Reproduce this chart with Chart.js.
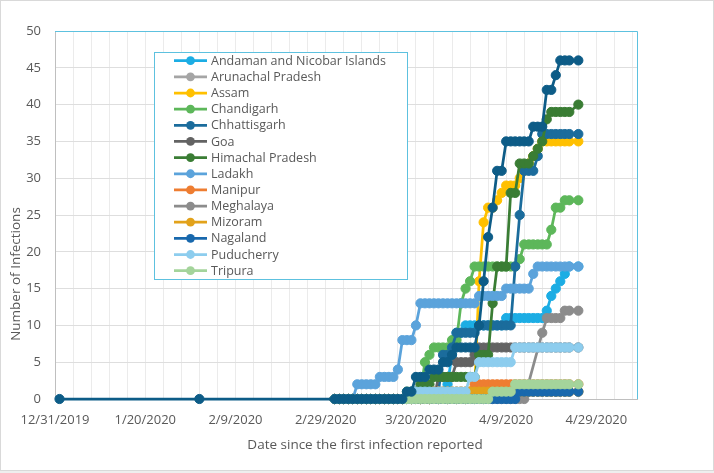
<!DOCTYPE html>
<html><head><meta charset="utf-8">
<script src="https://cdn.jsdelivr.net/npm/chart.js@4.4.1/dist/chart.umd.min.js"></script>
<style>html,body{margin:0;padding:0;background:#fff}#wrap{width:714px;height:473px}</style>
</head><body><div id="wrap"><canvas id="c" width="714" height="473"></canvas></div>
<script>
const dates = ['1/1/2020','2/1/2020',
'3/2/2020','3/3/2020','3/4/2020','3/5/2020','3/6/2020','3/7/2020','3/8/2020','3/9/2020','3/10/2020','3/11/2020',
'3/12/2020','3/13/2020','3/14/2020','3/15/2020','3/16/2020','3/17/2020','3/18/2020','3/19/2020','3/20/2020','3/21/2020',
'3/22/2020','3/23/2020','3/24/2020','3/25/2020','3/26/2020','3/27/2020','3/28/2020','3/29/2020','3/30/2020','3/31/2020',
'4/1/2020','4/2/2020','4/3/2020','4/4/2020','4/5/2020','4/6/2020','4/7/2020','4/8/2020','4/9/2020','4/10/2020',
'4/11/2020','4/12/2020','4/13/2020','4/14/2020','4/15/2020','4/16/2020','4/17/2020','4/18/2020','4/19/2020','4/20/2020',
'4/21/2020','4/22/2020','4/23/2020','4/25/2020'];

const andaman = [null,null,
0,0,0,0,0,0,0,0,0,0, 0,0,0,0,0,0,0,0,0,0, 0,0,0,0,0,2,6,9,9,10,
10,10,10,10,10,10,10,10,11,11, 11,11,11,11,11,11,11,12,14,15, 16,17,18, 18];
const arunachal = [null,null,
0,0,0,0,0,0,0,0,0,0, 0,0,0,0,0,0,0,0,0,0, 0,0,0,0,0,0,0,0,0,0,
0,1,1,1,1,1,1,1,1,1, 1,1,1,1,1,1,1,1,1,1, 1,1,1, 1];
const assam = [null,null,
0,0,0,0,0,0,0,0,0,0, 0,0,0,0,0,0,0,0,0,0, 0,0,0,0,0,0,0,0,0,0,
1,1,16,24,26,26,27,28,29,29, 29,30,31,32,33,34,35,35,35,35, 35,35,35, 35];
const chandigarh = [null,null,
0,0,0,0,0,0,0,0,0,0, 0,0,0,0,0,0,1,1,1,1, 5,6,7,7,7,7,8,8,13,15,
16,18,18,18,18,18,18,18,18,18, 18,19,21,21,21,21,21,21,23,26, 26,27,27, 27];
const chhattisgarh = [null,null,
0,0,0,0,0,0,0,0,0,0, 0,0,0,0,0,0,0,1,1,1, 1,1,1,1,6,6,7,9,9,9,
9,9,10,10,10,10,10,10,10,10, 18,25,31,31,31,33,36,36,36,36, 36,36,36, 36];
const goa = [null,null,
0,0,0,0,0,0,0,0,0,0, 0,0,0,0,0,0,0,0,0,0, 0,0,0,3,3,3,3,5,5,5,
5,6,7,7,7,7,7,7,7,7, 7,7,7,7,7,7,7,7,7,7, 7,7,7, 7];
const himachal = [null,null,
0,0,0,0,0,0,0,0,0,0, 0,0,0,0,0,0,0,0,0,2, 2,2,3,3,3,3,3,3,3,3,
3,3,6,6,6,13,18,18,18,28, 28,32,32,32,33,34,35,38,39,39, 39,39,39, 40];
const ladakh = [null,null,
0,0,0,0,0,2,2,2,2,2, 3,3,3,3,4,8,8,8,10,13, 13,13,13,13,13,13,13,13,13,13,
13,13,14,14,14,14,14,14,15,15, 15,15,15,15,17,18,18,18,18,18, 18,18,18, 18];
const manipur = [null,null,
0,0,0,0,0,0,0,0,0,0, 0,0,0,0,0,0,0,0,0,0, 0,0,1,1,1,1,1,1,1,1,
1,2,2,2,2,2,2,2,2,2, 2,2,2,2,2,2,2,2,2,2, 2,2,2, 2];
const meghalaya = [null,null,
0,0,0,0,0,0,0,0,0,0, 0,0,0,0,0,0,0,0,0,0, 0,0,0,0,0,0,0,0,0,0,
0,0,0,0,0,0,0,0,0,0, 0,0,0,null,null,null,9,11,11,11, 11,12,12, 12];
const mizoram = [null,null,
0,0,0,0,0,0,0,0,0,0, 0,0,0,0,0,0,0,0,0,0, 0,0,1,1,1,1,1,1,1,1,
1,1,1,1,1,1,1,1,1,1, 1,1,1,1,1,1,1,1,1,1, 1,1,1, 1];
const nagaland = [null,null,
0,0,0,0,0,0,0,0,0,0, 0,0,0,0,0,0,0,0,0,0, 0,0,0,0,0,0,0,0,0,0,
0,0,0,0,0,0,0,0,0,0, 0,1,1,1,1,1,1,1,1,1, 1,1,1, 1];
const puducherry = [null,null,
0,0,0,0,0,0,0,0,0,0, 0,0,0,0,0,0,0,0,1,1, 1,1,1,1,1,1,1,1,1,1,
3,3,5,5,5,5,5,5,5,5, 7,7,7,7,7,7,7,7,7,7, 7,7,7, 7];
const tripura = [null,null,
0,0,0,0,0,0,0,0,0,0, 0,0,0,0,0,0,0,0,0,0, 0,0,0,0,0,0,0,0,0,0,
0,0,0,0,0,1,1,1,1,1, 2,2,2,2,2,2,2,2,2,2, 2,2,2, 2];
const uttarakhand = [0,0,
0,0,0,0,0,0,0,0,0,0, 0,0,0,0,0,0,1,1,3,3, 3,4,4,4,5,5,6,7,7,7,
7,7,10,16,22,26,31,31,35,35, 35,35,35,35,37,37,37,42,42,44, 46,46,46, 46];

const seriesNames = ['Andaman and Nicobar Islands','Arunachal Pradesh','Assam','Chandigarh','Chhattisgarh','Goa',
  'Himachal Pradesh','Ladakh','Manipur','Meghalaya','Mizoram','Nagaland','Puducherry','Tripura','Uttarakhand'];
const seriesValues = [andaman,arunachal,assam,chandigarh,chhattisgarh,goa,himachal,ladakh,manipur,meghalaya,mizoram,nagaland,puducherry,tripura,uttarakhand];
const seriesColors = ['#1CADE4','#A5A5A5','#FFC000','#5DB75A','#1B6C9C','#636363','#3A7D34','#5BA3DB',
  '#EE7D31','#8C8C8C','#E2A21B','#1868AD','#8DCDEE','#A4D49B','#0D5C87'];
const legendCount = 14;
const yTicks = {min:0, max:50, step:5};
const xTickEvery = 20;

function dayNum(s){const p=s.split('/').map(Number);return Math.round((Date.UTC(p[2],p[0]-1,p[1])-Date.UTC(2019,11,31))/86400000);}
function fmt(v){const d=new Date(Date.UTC(2019,11,31+v));return (d.getUTCMonth()+1)+'/'+d.getUTCDate()+'/'+d.getUTCFullYear();}

const N = seriesNames.length;
const datasets = seriesNames.map((name,i)=>({
  label:name,
  data: dates.map((s,k)=> seriesValues[i][k]==null?null:{x:dayNum(s),y:seriesValues[i][k]}).filter(p=>p),
  borderColor:seriesColors[i], backgroundColor:seriesColors[i],
  showLine:true, borderWidth:2.75, pointRadius:4.6, pointHoverRadius:4.6, pointBorderWidth:1,
  tension:0, fill:false, clip:false, order:N-1-i
}));

const FONT='"Open Sans", "Noto Sans", sans-serif';
const framePlugin = {
  id:'frame',
  beforeDraw(chart){const c=chart.ctx;c.save();c.fillStyle='#fff';c.fillRect(0,0,chart.width,chart.height);c.restore();},
  afterDraw(chart){
    const c=chart.ctx, a=chart.chartArea;
    c.save();
    c.strokeStyle='#5DC1DF'; c.lineWidth=1;
    c.beginPath(); c.moveTo(a.left,Math.round(a.top)+0.5); c.lineTo(Math.round(a.right)+0.5,Math.round(a.top)+0.5); c.lineTo(Math.round(a.right)+0.5,a.bottom); c.stroke();
    const lx=154, ly=52, lw=253, lh=227;
    c.fillStyle='#fff'; c.fillRect(lx,ly,lw,lh);
    c.strokeStyle='#5DC1DF'; c.strokeRect(lx+0.5,ly+0.5,lw,lh);
    c.font='12.5px '+FONT; c.textBaseline='middle'; c.textAlign='left';
    chart.data.datasets.slice(0,legendCount).forEach((ds,i)=>{
      const y=60.7+i*16.15;
      c.strokeStyle=ds.borderColor; c.lineWidth=2.75;
      c.beginPath(); c.moveTo(174,y); c.lineTo(207,y); c.stroke();
      c.fillStyle=ds.backgroundColor; c.beginPath(); c.arc(190.5,y,4.4,0,Math.PI*2); c.fill();
      c.fillStyle='#595959'; c.fillText(ds.label,211,y+0.5);
    });
    c.fillStyle='#595959'; c.font='13.5px '+FONT; c.textAlign='center'; c.textBaseline='middle';
    c.fillText('Date since the first infection reported',365,445);
    c.save(); c.translate(16,274); c.rotate(-Math.PI/2); c.fillText('Number of Infections',0,0); c.restore();
    c.strokeStyle='#D9D9D9'; c.lineWidth=1; c.strokeRect(0.5,0.5,chart.width-1,470);
    c.fillStyle='#EEEEEE'; c.fillRect(0,471,chart.width,2);
    c.restore();
  }
};

function build(){
new Chart(document.getElementById('c'),{
  type:'scatter',
  data:{datasets},
  options:{
    responsive:false, animation:false, devicePixelRatio:1,
    layout:{padding:{left:0,right:77,top:31,bottom:0}},
    plugins:{legend:{display:false},tooltip:{enabled:false}},
    scales:{
      x:{type:'linear',min:0,max:129,
        afterBuildTicks:s=>{const t=[];for(let v=0;v<=128;v+=4)t.push({value:v});s.ticks=t;},
        afterFit:s=>{s.height=74;},
        grid:{color:'#EBEBEB',drawTicks:false},
        border:{display:true,color:'#BFBFBF',width:1},
        ticks:{autoSkip:false,maxRotation:0,padding:13,color:'#595959',font:{family:FONT,size:13},
          callback:v=> v%xTickEvery===0?fmt(v):''}
      },
      y:{min:yTicks.min,max:yTicks.max,
        afterFit:s=>{s.width=55;},
        grid:{color:'#DEDEDE',drawTicks:false},
        border:{display:true,color:'#BFBFBF',width:1},
        ticks:{stepSize:yTicks.step,padding:14,color:'#595959',font:{family:FONT,size:13}}
      }
    }
  },
  plugins:[framePlugin]
});
}
if(document.fonts&&document.fonts.load){Promise.all([document.fonts.load('13px "Open Sans"')]).then(build,build);}else build();
</script></body></html>
